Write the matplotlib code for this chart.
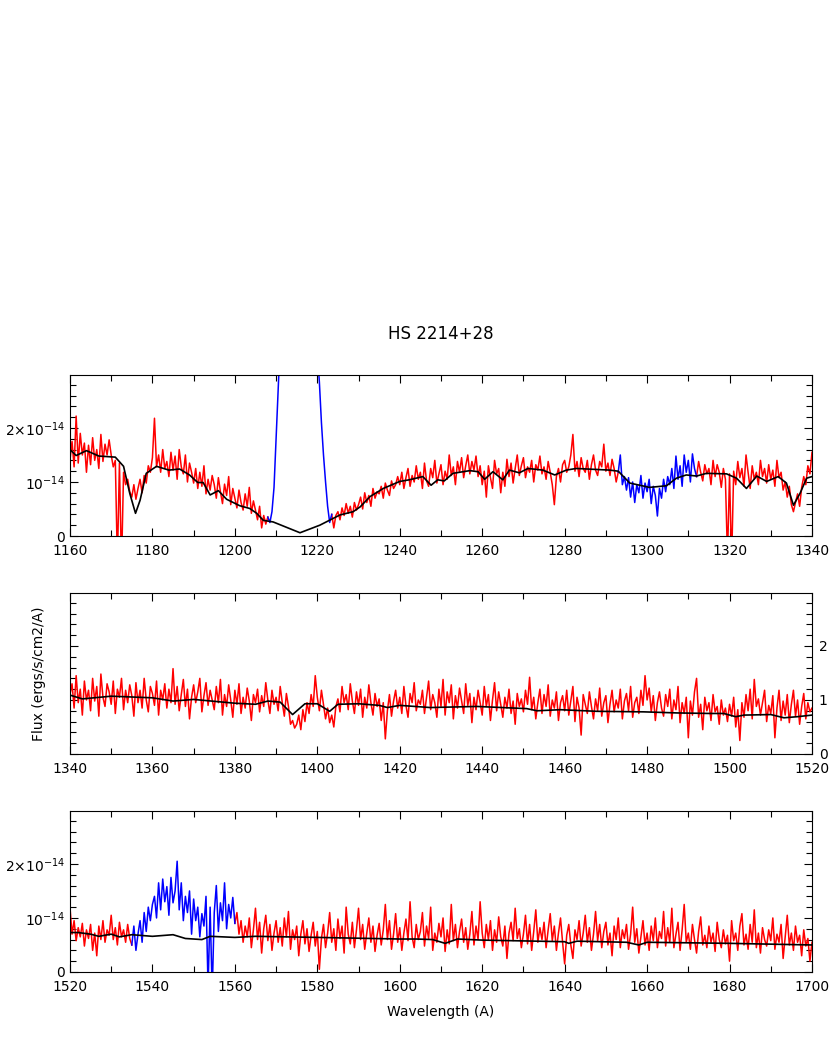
import matplotlib
matplotlib.use("Agg")
import matplotlib.pyplot as plt
import numpy as np
from matplotlib.ticker import MultipleLocator

# flux in units of 1e-16 erg/s/cm2/A, sampled every 0.5 A
flux_1160 = [
    140, 175, 128, 222, 135, 190, 150, 172, 118, 168,
    132, 182, 140, 160, 125, 188, 138, 170, 150, 178,
    150, 128, 140, -50, 135, -60, 118, 95, 105, 82,
    72, 95, 68, 88, 105, 80, 112, 98, 130, 118,
    145, 218, 128, 150, 118, 160, 125, 138, 110, 155,
    122, 148, 105, 160, 128, 115, 150, 100, 135, 118,
    98, 125, 88, 118, 92, 130, 78, 105, 85, 112,
    95, 70, 108, 82, 60, 96, 75, 110, 58, 88,
    70, 52, 85, 62, 48, 78, 55, 90, 42, 65,
    48, 30, 55, 15, 38, 22, 35, 25, 45, 90,
    180, 270, 360, 450, 520, 560, 580, 590, 600, 600,
    600, 600, 590, 580, 560, 540, 500, 450, 400, 360,
    340, 285, 210, 150, 100, 55, 25, 40, 15, 38,
    45, 30, 52, 38, 60, 42, 55, 35, 62, 48,
    58, 72, 50, 80, 62, 75, 55, 88, 70, 82,
    78, 92, 70, 98, 85, 75, 102, 88, 95, 110,
    95, 118, 88, 108, 125, 92, 112, 100, 130, 105,
    118, 88, 135, 102, 92, 125, 108, 140, 98, 115,
    132, 95, 120, 105, 150, 112, 128, 95, 138, 118,
    145, 108, 130, 150, 115, 138, 122, 148, 110, 130,
    95, 120, 72, 130, 108, 88, 140, 115, 125, 80,
    118, 92, 142, 110, 135, 98, 125, 150, 112, 130,
    145, 108, 128, 118, 140, 100, 132, 122, 148, 115,
    128, 105, 138, 118, 95, 58, 110, 125, 100, 132,
    140, 118, 128, 150, 188, 120, 138, 110, 145, 125,
    118, 140, 105, 132, 150, 122, 112, 138, 128, 170,
    120, 135, 112, 142, 125, 100, 118, 150, 95, 110,
    85, 108, 72, 100, 62, 95, 80, 112, 70, 98,
    82, 105, 60, 92, 75, 37, 88, 70, 105, 82,
    110, 95, 125, 88, 148, 105, 130, 92, 150, 118,
    140, 100, 152, 125, 110, 138, 118, 102, 132, 115,
    125, 95, 140, 110, 132, 118, 90, 125, 105, -40,
    115, -50, 120, 95, 138, 108, 125, 92, 150, 118,
    88, 130, 105, 118, 95, 140, 110, 125, 98, 132,
    105, 122, 92, 140, 108, 118, 85, 100, 72, 92,
    58, 45, 62, 78, 55, 90, 110, 95, 130, 115,
    155,
]
flux_1340 = [
    110, 130, 85, 145, 95, 120, 72, 135, 100, 118,
    80, 140, 98, 125, 70, 148, 105, 88, 130, 115,
    92, 135, 75, 120, 105, 140, 82, 118, 95, 128,
    108, 70, 132, 95, 118, 85, 140, 100, 78, 125,
    112, 90, 135, 72, 118, 100, 130, 85, 120, 95,
    158, 92, 125, 80, 110, 138, 88, 120, 65, 105,
    128, 95, 115, 140, 78, 108, 132, 90, 118, 100,
    82, 125, 95, 138, 72, 110, 88, 128, 100, 68,
    118, 92, 130, 75, 105, 85, 122, 98, 62, 110,
    95, 120, 78, 108, 88, 132, 100, 75, 118, 92,
    105, 80, 125, 95, 70, 112, 88, 55, 62, 48,
    55, 72, 45, 82, 60, 95, 75, 110, 88, 145,
    105, 80, 118, 92, 65, 85, 58, 72, 50, 88,
    102, 78, 125, 95, 110, 82, 130, 98, 75, 115,
    90, 120, 68, 105, 85, 128, 95, 72, 112, 88,
    102, 62, 95, 28, 80, 110, 70, 98, 118, 85,
    105, 75, 125, 90, 68, 112, 95, 132, 80, 100,
    92, 118, 75, 105, 135, 82, 110, 95, 68, 120,
    88, 138, 72, 115, 95, 128, 65, 108, 85, 122,
    98, 75, 130, 90, 112, 58, 105, 82, 118, 95,
    72, 125, 88, 110, 62, 100, 132, 80, 115, 92,
    68, 105, 85, 120, 75, 98, 55, 112, 88, 102,
    78, 118, 92, 142, 82, 105, 65, 95, 120, 75,
    110, 88, 128, 70, 100, 85, 115, 62, 95, 108,
    80, 118, 72, 98, 125, 60, 105, 85, 35, 110,
    92, 75, 115, 88, 65, 102, 80, 122, 70, 95,
    108, 58, 92, 118, 78, 100, 85, 120, 65, 98,
    112, 80, 125, 68, 95, 105, 75, 118, 90, 145,
    100, 122, 78, 108, 62, 95, 115, 85, 70, 110,
    88, 120, 65, 100, 82, 125, 58, 95, 75, 105,
    30, 98, 72, 115, 140, 68, 92, 45, 105, 80,
    95, 62, 110, 78, 88, 55, 100, 72, 85, 60,
    92, 70, 105, 50, 82, 25, 95, 68, 110, 80,
    120, 65, 138, 88, 102, 72, 95, 118, 60, 90,
    75, 108, 30, 85, 118, 62, 98, 72, 110, 58,
    92, 118, 70, 100, 55, 88, 112, 65, 95, 78,
    85,
]
flux_1520 = [
    120, 70, 95, 58, 82, 65, 90, 48, 78, 62,
    88, 40, 72, 30, 85, 60, 95, 55, 78, 68,
    105, 60, 82, 50, 92, 65, 78, 55, 88, 62,
    50, 85, 40, 70, 95, 55, 110, 75, 120, 95,
    125, 140, 100, 165, 115, 172, 130, 158, 105, 175,
    128, 150, 205, 115, 165, 95, 140, 110, 150, 70,
    135, 95, 120, 65, 108, 85, 140, -30, 120, -40,
    110, 160, 75, 128, 95, 165, 80, 125, 100, 138,
    90, 110, 70, 95, 55, 85, 65, 100, 45, 78,
    118, 60, 92, 35, 80, 105, 58, 88, 40, 72,
    95, 55, 82, 48, 100, 65, 112, 42, 78, 60,
    85, 30, 70, 95, 52, 80, 38, 68, 92, 48,
    75, 5, 62, 88, 45, 72, 110, 55, 80, 40,
    98, 62, 85, 35, 120, 70, 52, 92, 45, 78,
    118, 60, 88, 42, 72, 100, 55, 85, 38, 68,
    90, 50, 78, 125, 60, 95, 42, 70, 108, 55,
    82, 40, 72, 98, 58, 130, 65, 45, 88, 60,
    75, 110, 48, 85, 62, 120, 40, 72, 55, 90,
    65, 100, 38, 78, 52, 125, 58, 88, 45, 75,
    98, 55, 82, 42, 70, 112, 50, 85, 60, 130,
    72, 45, 88, 60, 95, 40, 78, 55, 102, 65,
    48, 85, 25, 72, 92, 58, 118, 62, 80, 45,
    70, 105, 52, 88, 40, 75, 115, 55, 82, 60,
    92, 45, 78, 108, 58, 85, 40, 72, 100, 55,
    15, 68, 88, 50, 25, 78, 60, 95, 48, 72,
    105, 55, 82, 40, 70, 112, 58, 88, 45, 75,
    92, 50, 72, 30, 85, 60, 100, 45, 78, 62,
    88, 42, 70, 120, 55, 80, 35, 65, 95, 50,
    72, 40, 85, 58, 100, 45, 75, 62, 112, 48,
    82, 55, 118, 45, 70, 92, 40, 78, 125, 55,
    72, 42, 88, 60, 35, 75, 102, 50, 68, 45,
    85, 55, 72, 38, 92, 60, 45, 78, 52, 68,
    20, 95, 58, 72, 40, 85, 108, 50, 70, 42,
    88, 55, 115, 45, 72, 35, 82, 60, 48, 78,
    58, 100, 42, 70, 55, 88, 25, 65, 105, 50,
    72, 40, 85, 55, 68, 30, 78, 48, 62, 20,
    55,
]

# model spectrum (black), knots, units of 1e-14
model_w1 = [1160, 1161.5, 1164, 1167, 1171, 1173, 1174.5, 1175.9, 1177, 1178.5,
            1181, 1184, 1186.6, 1189, 1191, 1192.3, 1194, 1196, 1198, 1201.2,
            1203.6, 1205.3, 1206.9, 1209.3, 1215.8, 1220.6, 1225.5, 1228.7, 1230.4,
            1232.8, 1236, 1240, 1242.3, 1245.6, 1247.6, 1249.2, 1250.8, 1252.9,
            1257, 1259, 1260.6, 1262.6, 1265, 1266.6, 1269, 1271.1, 1274.7, 1277.6,
            1280.4, 1282.8, 1290.9, 1293, 1295.8, 1298.2, 1300.6, 1304.7, 1307.1,
            1309.5, 1312, 1314.4, 1319.3, 1321.7, 1324.1, 1326.6, 1329, 1331.8,
            1333.8, 1335.5, 1337.1, 1338.7, 1340]
model_f1 = [1.60, 1.49, 1.58, 1.48, 1.46, 1.29, 0.79, 0.42, 0.66, 1.16,
            1.29, 1.22, 1.24, 1.13, 0.99, 0.99, 0.76, 0.84, 0.68, 0.56,
            0.51, 0.42, 0.29, 0.26, 0.06, 0.20, 0.39, 0.45, 0.54,
            0.73, 0.88, 1.01, 1.04, 1.10, 0.94, 1.04, 1.02, 1.16,
            1.21, 1.19, 1.05, 1.19, 1.04, 1.22, 1.17, 1.25, 1.22, 1.13,
            1.22, 1.25, 1.22, 1.20, 0.98, 0.94, 0.90, 0.93, 1.07,
            1.13, 1.11, 1.16, 1.15, 1.07, 0.88, 1.11, 1.01, 1.10,
            0.98, 0.57, 0.79, 1.07, 1.10]
model_w2 = [1340, 1343, 1350, 1360, 1365, 1370, 1380, 1385, 1388, 1391, 1394,
            1397, 1400, 1403, 1405, 1410, 1415, 1417, 1420, 1427.4, 1438.7,
            1450.8, 1453.3, 1458.9, 1467.8, 1479.2, 1487.3, 1495.4, 1498.6,
            1501.5, 1503.5, 1510, 1513.2, 1516.4, 1520]
model_f2 = [1.09, 1.02, 1.07, 1.04, 0.98, 1.01, 0.94, 0.92, 0.98, 0.96, 0.73,
            0.93, 0.93, 0.79, 0.92, 0.93, 0.90, 0.86, 0.90, 0.86, 0.88,
            0.84, 0.80, 0.82, 0.79, 0.78, 0.76, 0.75, 0.75,
            0.69, 0.72, 0.73, 0.67, 0.69, 0.72]
model_w3 = [1520, 1522, 1525, 1527, 1530, 1532, 1535, 1540, 1545, 1548, 1552,
            1554, 1560, 1565, 1580, 1600, 1604, 1608, 1611, 1614, 1620, 1640,
            1641, 1643, 1655, 1658, 1660, 1680, 1700]
model_f3 = [0.73, 0.73, 0.70, 0.66, 0.70, 0.65, 0.69, 0.66, 0.69, 0.62, 0.60,
            0.66, 0.64, 0.66, 0.64, 0.61, 0.61, 0.60, 0.53, 0.61, 0.59, 0.56,
            0.53, 0.57, 0.55, 0.50, 0.55, 0.53, 0.50]

# wavelength ranges drawn in blue
blue_1 = [(1208, 1223.5), (1293, 1312)]
blue_2 = []
blue_3 = [(1535, 1560)]

panels = [
    (1160, flux_1160, model_w1, model_f1, blue_1),
    (1340, flux_1340, model_w2, model_f2, blue_2),
    (1520, flux_1520, model_w3, model_f3, blue_3),
]

plt.rcParams['font.family'] = 'DejaVu Sans'
fig = plt.figure(figsize=(8.3, 10.42), dpi=100)
bottoms = [0.4856, 0.2764, 0.0672]

for k, (w0, flux, mw, mf, blues) in enumerate(panels):
    ax = fig.add_axes([0.0843, bottoms[k], 0.894, 0.1545])
    w = w0 + 0.5 * np.arange(len(flux))
    f = np.array(flux) / 100.0
    isblue = np.zeros(len(w), dtype=bool)
    for a, b in blues:
        isblue |= (w >= a) & (w <= b)
    # extend masks by one point so the segments join
    red = ~isblue
    red_ext = red | np.r_[red[1:], False] | np.r_[False, red[:-1]]
    ax.plot(w, np.where(red_ext, f, np.nan), color='red', lw=1.1)
    if isblue.any():
        ax.plot(w, np.where(isblue, f, np.nan), color='blue', lw=1.1)
    ax.plot(mw, mf, color='black', lw=1.2)

    ax.set_xlim(w0, w0 + 180)
    ax.set_ylim(0, 2.98)
    ax.xaxis.set_major_locator(MultipleLocator(20))
    ax.xaxis.set_minor_locator(MultipleLocator(10))
    ax.yaxis.set_major_locator(MultipleLocator(1))
    ax.yaxis.set_minor_locator(MultipleLocator(0.2))
    ax.tick_params(which='both', direction='in', top=True, right=True,
                   labelsize=10, width=0.8)
    ax.tick_params(which='major', length=6)
    ax.tick_params(which='minor', length=4)
    ax.tick_params(axis='x', pad=6)
    for s in ax.spines.values():
        s.set_linewidth(0.8)

    if k == 1:
        ax.tick_params(axis='y', labelleft=False, labelright=True, pad=5)
        ax.set_yticks([0, 1, 2])
        ax.set_yticklabels(['0', '1', '2'])
        ax.set_ylabel('Flux (ergs/s/cm2/A)', fontsize=10, labelpad=14)
    else:
        ax.set_yticks([0, 1, 2])
        ax.set_yticklabels(['0', r'$10^{-14}$', r'$2{\times}10^{-14}$'])
    if k == 0:
        ax.set_title('HS 2214+28', fontsize=12, pad=26)
    if k == 2:
        ax.set_xlabel('Wavelength (A)', fontsize=10, labelpad=8)

fig.savefig('out.png', dpi=100)
